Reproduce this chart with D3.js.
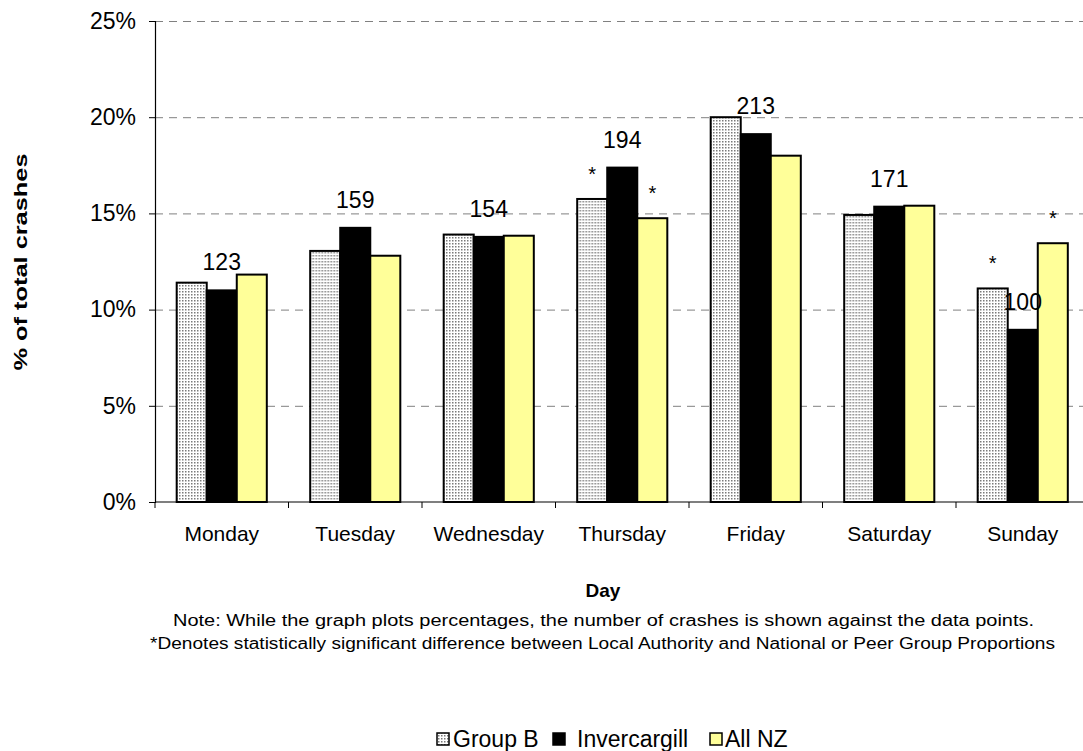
<!DOCTYPE html>
<html>
<head>
<meta charset="utf-8">
<script src="https://cdn.jsdelivr.net/npm/d3@7"></script>
<style>
  body { margin: 0; background: #fff; font-family: "Liberation Sans", Arial, sans-serif; }
  svg { display: block; }
  .grid line { stroke: #808080; stroke-dasharray: 8 6; }
  .grid .domain { display: none; }
</style>
</head>
<body>
<div class="chart-container"></div>
<script>
// Data
const days = ['Monday', 'Tuesday', 'Wednesday', 'Thursday', 'Friday', 'Saturday', 'Sunday'];
const seriesNames = ['Group B', 'Invercargill', 'All NZ'];
const groupB = [11.4, 13.05, 13.9, 15.75, 20.0, 14.92, 11.1];
const invercargill = [11.0, 14.25, 13.78, 17.38, 19.12, 15.35, 8.95];
const allNZ = [11.82, 12.8, 13.84, 14.75, 18.0, 15.4, 13.45];
const crashCounts = [123, 159, 154, 194, 213, 171, 100];
// asterisks: [day index, series index]
const significant = [[3, 0], [3, 2], [6, 0], [6, 2]];
const yTicks = [0, 5, 10, 15, 20, 25];

const seriesValues = [groupB, invercargill, allNZ];

const W = 1083, H = 751;
const margin = { top: 21, left: 155 };
const plotW = 934.5;
const plotH = 481;

const svg = d3.select('.chart-container')
  .append('svg')
  .attr('width', W)
  .attr('height', H)
  .attr('font-family', '"Liberation Sans", Arial, sans-serif');

// dotted pattern for Group B
const defs = svg.append('defs');
const pat = defs.append('pattern')
  .attr('id', 'dots')
  .attr('width', 3)
  .attr('height', 3)
  .attr('patternUnits', 'userSpaceOnUse');
pat.append('rect').attr('width', 3).attr('height', 3).attr('fill', '#ffffff');
pat.append('rect').attr('x', 0).attr('y', 0).attr('width', 1.5).attr('height', 1.5).attr('fill', '#7a7a7a');

const fills = ['url(#dots)', '#000000', '#ffff99'];

const g = svg.append('g')
  .attr('transform', `translate(${margin.left},${margin.top})`);

const x = d3.scaleBand().domain(days).range([0, plotW]).paddingInner(0).paddingOuter(0);
const xSub = d3.scaleBand().domain(d3.range(3)).range([x.bandwidth() * 0.1625, x.bandwidth() * 0.8375]);
const y = d3.scaleLinear().domain([0, 25]).range([plotH, 0]);

// grid lines
g.append('g')
  .attr('class', 'grid')
  .call(d3.axisLeft(y).tickValues(yTicks.filter(t => t > 0)).tickSize(-plotW).tickFormat(''));

// bars
days.forEach((day, i) => {
  const grp = g.append('g').attr('transform', `translate(${x(day)},0)`);
  seriesValues.forEach((vals, s) => {
    grp.append('rect')
      .attr('x', xSub(s))
      .attr('y', y(vals[i]))
      .attr('width', xSub.bandwidth())
      .attr('height', y(0) - y(vals[i]))
      .attr('fill', fills[s])
      .attr('stroke', '#000')
      .attr('stroke-width', 2);
  });
  // crash count label over the Invercargill bar
  grp.append('text')
    .attr('x', x.bandwidth() / 2)
    .attr('y', y(invercargill[i]) - 20)
    .attr('text-anchor', 'middle')
    .attr('font-size', 23)
    .attr('fill', '#000')
    .text(crashCounts[i]);
});

// significance asterisks
significant.forEach(([d, s]) => {
  g.append('text')
    .attr('x', x(days[d]) + xSub(s) + xSub.bandwidth() / 2)
    .attr('y', y(seriesValues[s][d]) - 18)
    .attr('text-anchor', 'middle')
    .attr('font-size', 20)
    .text('*');
});

// y axis
const yAxis = g.append('g')
  .call(d3.axisLeft(y).tickValues(yTicks).tickSize(6).tickFormat(d => d + '%'));
yAxis.attr('font-family', null).attr('font-size', null);
yAxis.select('.domain').attr('stroke', '#000').attr('stroke-width', 1.2);
yAxis.selectAll('.tick line').attr('stroke', '#000');
yAxis.selectAll('text')
  .attr('font-size', 23)
  .attr('fill', '#000')
  .attr('x', -19);

// x axis (ticks at category boundaries)
const xAxisG = g.append('g').attr('transform', `translate(0,${plotH})`);
xAxisG.append('line')
  .attr('x1', 0).attr('x2', plotW)
  .attr('stroke', '#000').attr('stroke-width', 1.2);
xAxisG.selectAll('.bound')
  .data(d3.range(days.length + 1))
  .enter()
  .append('line')
  .attr('x1', i => i * x.step())
  .attr('x2', i => i * x.step())
  .attr('y1', 0).attr('y2', 6)
  .attr('stroke', '#000');
xAxisG.selectAll('.cat')
  .data(days)
  .enter()
  .append('text')
  .attr('x', d => x(d) + x.bandwidth() / 2)
  .attr('y', 39)
  .attr('text-anchor', 'middle')
  .attr('font-size', 21)
  .text(d => d);

// axis titles
svg.append('text')
  .attr('transform', 'translate(27,262) rotate(-90)')
  .attr('text-anchor', 'middle')
  .attr('font-size', 19)
  .attr('font-weight', 'bold')
  .attr('textLength', 217)
  .attr('lengthAdjust', 'spacingAndGlyphs')
  .text('% of total crashes');

svg.append('text')
  .attr('x', 603).attr('y', 597)
  .attr('text-anchor', 'middle')
  .attr('font-size', 19)
  .attr('font-weight', 'bold')
  .text('Day');

svg.append('text')
  .attr('x', 603.5).attr('y', 626)
  .attr('text-anchor', 'middle')
  .attr('font-size', 16)
  .attr('textLength', 861)
  .attr('lengthAdjust', 'spacingAndGlyphs')
  .text('Note: While the graph plots percentages, the number of crashes is shown against the data points.');

svg.append('text')
  .attr('x', 602.5).attr('y', 649)
  .attr('text-anchor', 'middle')
  .attr('font-size', 16)
  .attr('textLength', 905)
  .attr('lengthAdjust', 'spacingAndGlyphs')
  .text('*Denotes statistically significant difference between Local Authority and National or Peer Group Proportions');

// legend
const legendX = [437, 553, 710];
const legendTextX = [453, 577, 725];
const legend = svg.append('g');
seriesNames.forEach((name, s) => {
  legend.append('rect')
    .attr('x', legendX[s]).attr('y', 733)
    .attr('width', 12).attr('height', 12)
    .attr('fill', fills[s])
    .attr('stroke', '#000')
    .attr('stroke-width', 1.5);
  legend.append('text')
    .attr('x', legendTextX[s]).attr('y', 747)
    .attr('font-size', 23)
    .text(name);
});
</script>
</body>
</html>
